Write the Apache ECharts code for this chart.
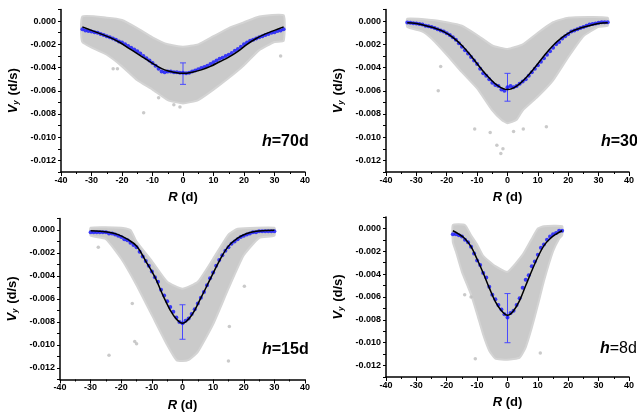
<!DOCTYPE html>
<html><head><meta charset="utf-8">
<script src="https://cdn.jsdelivr.net/npm/echarts@6/dist/echarts.min.js"></script>
<style>html,body{margin:0;padding:0;background:#fff}#c{width:637px;height:413px}</style>
</head><body><div id="c"></div>
<script>
// ---------- data ----------
const panelLabels = ['70d', '30d', '15d', '8d'];

// blue dot averages (R from start, step 1)
const blueStart = [-33, -33, -30, -18];
const blue70 = [-0.00070,-0.00080,-0.00085,-0.00090,-0.00095,-0.00100,-0.00110,-0.00120,-0.00130,-0.00140,-0.00150,-0.00160,-0.00175,-0.00185,-0.00200,-0.00215,-0.00230,-0.00245,-0.00260,-0.00280,-0.00300,-0.00320,-0.00340,-0.00360,-0.00385,-0.00410,-0.00435,-0.00440,-0.00435,-0.00435,-0.00440,-0.00440,-0.00445,-0.00445,-0.00450,-0.00445,-0.00435,-0.00425,-0.00415,-0.00405,-0.00395,-0.00385,-0.00370,-0.00355,-0.00340,-0.00325,-0.00315,-0.00300,-0.00290,-0.00275,-0.00255,-0.00240,-0.00220,-0.00200,-0.00185,-0.00170,-0.00160,-0.00150,-0.00140,-0.00130,-0.00120,-0.00110,-0.00100,-0.00095,-0.00085,-0.00080,-0.00070];
const blue30 = [-0.00012,-0.00015,-0.00018,-0.0002,-0.00025,-0.0003,-0.0004,-0.00045,-0.0005,-0.0006,-0.0007,-0.0008,-0.0009,-0.00105,-0.0012,-0.0014,-0.0016,-0.0019,-0.0022,-0.0025,-0.0028,-0.0031,-0.0034,-0.0037,-0.0041,-0.0045,-0.0047,-0.0050,-0.0053,-0.0055,-0.0056,-0.0059,-0.0060,-0.0057,-0.0056,-0.0057,-0.0056,-0.0054,-0.0052,-0.0050,-0.0047,-0.0044,-0.0041,-0.0038,-0.0035,-0.0032,-0.0029,-0.0026,-0.0023,-0.0020,-0.0018,-0.0015,-0.0013,-0.0011,-0.0009,-0.0008,-0.0007,-0.0006,-0.0005,-0.0004,-0.0003,-0.00025,-0.0002,-0.00015,-0.0001,-0.0001,-0.0001];
const blue15 = [-0.0002,-0.0002,-0.0002,-0.0002,-0.0002,-0.0002,-0.0003,-0.0003,-0.0004,-0.0005,-0.0006,-0.0008,-0.0009,-0.0011,-0.0013,-0.0015,-0.0019,-0.0023,-0.0027,-0.0031,-0.0036,-0.0041,-0.0045,-0.0052,-0.0057,-0.0062,-0.0067,-0.0071,-0.0076,-0.0080,-0.0081,-0.0079,-0.0077,-0.0073,-0.0069,-0.0064,-0.0059,-0.0054,-0.0048,-0.0042,-0.0037,-0.0031,-0.0026,-0.0022,-0.0018,-0.0015,-0.0012,-0.0010,-0.0008,-0.0006,-0.0005,-0.0004,-0.0003,-0.0002,-0.0002,-0.0001,-0.0001,-0.0001,-0.0001,-0.0001,-0.0001];
const blue8 = [-0.0005,-0.0005,-0.0006,-0.0007,-0.0010,-0.0012,-0.0016,-0.0022,-0.0028,-0.0032,-0.0039,-0.0043,-0.0051,-0.0058,-0.0062,-0.0067,-0.0071,-0.0075,-0.0078,-0.0074,-0.0072,-0.0067,-0.0061,-0.0052,-0.0045,-0.0041,-0.0033,-0.0029,-0.0023,-0.0017,-0.0014,-0.0010,-0.0007,-0.0005,-0.0004,-0.0002,-0.0002];

// black fitted curves
const fit70R = [-33,-30,-27,-24,-21,-18,-15,-12,-9,-6,-3,0,3,6,9,12,15,18,21,24,27,30,33];
const fit70V = [-0.0005,-0.0008,-0.0011,-0.0014,-0.0018,-0.0023,-0.0028,-0.0033,-0.0038,-0.0042,-0.0044,-0.0045,-0.0044,-0.0042,-0.0039,-0.0035,-0.0031,-0.0026,-0.0020,-0.0015,-0.0011,-0.0008,-0.0005];
const fit30R = [-33,-30,-27,-24,-21,-18,-15,-12,-9,-6,-3,0,3,6,9,12,15,18,21,24,27,30,33];
const fit30V = [-0.00015,-0.0002,-0.0004,-0.0006,-0.0009,-0.0014,-0.0021,-0.0030,-0.0040,-0.0049,-0.0056,-0.0059,-0.0056,-0.0049,-0.0040,-0.0030,-0.0021,-0.0014,-0.0009,-0.0006,-0.0004,-0.0002,-0.00015];
const fit15R = [-30,-27,-24,-21,-18,-15,-12,-9,-6,-3,0,3,6,9,12,15,18,21,24,27,30];
const fit15V = [-0.00006,-0.0001,-0.0002,-0.0004,-0.0008,-0.0014,-0.0027,-0.0041,-0.0059,-0.0074,-0.0081,-0.0074,-0.0059,-0.0043,-0.0027,-0.0014,-0.0007,-0.0003,-0.0001,-0.00005,-0.00003];
const fit8R = [-18,-16,-14,-12,-10,-8,-6,-4,-2,0,2,4,6,8,10,12,14,16,18];
const fit8V = [-0.0002,-0.0005,-0.0009,-0.0016,-0.0027,-0.0039,-0.0052,-0.0064,-0.0072,-0.0076,-0.0072,-0.0063,-0.0050,-0.0037,-0.0025,-0.0015,-0.0009,-0.0005,-0.0002];

// grey scatter cloud: upper and lower envelopes
const cloudUp70 = [[-33,0.0004],[-25,0.0003],[-20,0.0001],[-15,-0.0006],[-10,-0.0014],[-5,-0.0020],[0,-0.0022],[5,-0.0020],[10,-0.0013],[15,-0.0006],[20,-0.0001],[25,0.0004],[33,0.0005]];
const cloudLo70 = [[-33,-0.0018],[-25,-0.0029],[-20,-0.0039],[-15,-0.0051],[-10,-0.0059],[-5,-0.0068],[0,-0.0071],[5,-0.0068],[10,-0.0059],[15,-0.0049],[20,-0.0038],[25,-0.0025],[30,-0.0018],[33,-0.0017]];
const cloudUp30 = [[-33,0.0002],[-25,0.0001],[-20,-0.0001],[-15,-0.0004],[-10,-0.0012],[-5,-0.0021],[0,-0.0024],[5,-0.0020],[10,-0.0010],[15,-0.0001],[20,0.0003],[33,0.0003]];
const cloudLo30 = [[-33,-0.0005],[-28,-0.0009],[-25,-0.0015],[-20,-0.0029],[-15,-0.0044],[-10,-0.0058],[-5,-0.0077],[-2,-0.0085],[0,-0.0088],[3,-0.0085],[5,-0.0077],[10,-0.0065],[15,-0.0051],[20,-0.0031],[25,-0.0013],[30,-0.0005],[33,-0.0004]];
const cloudUp15 = [[-30,0.0002],[-20,0.0002],[-17,0.0000],[-15,-0.0010],[-10,-0.0027],[-5,-0.0045],[0,-0.0051],[5,-0.0045],[10,-0.0025],[15,-0.0004],[18,0.0001],[30,0.0002]];
const cloudLo15 = [[-30,-0.0005],[-25,-0.0008],[-20,-0.0025],[-15,-0.0048],[-10,-0.0074],[-5,-0.0100],[-2,-0.0113],[0,-0.0114],[2,-0.0113],[5,-0.0106],[10,-0.0082],[15,-0.0051],[20,-0.0022],[25,-0.0007],[30,-0.0005]];
const cloudUp8 = [[-18,0.0003],[-14,0.0003],[-12,-0.0006],[-10,-0.0014],[-8,-0.0024],[-4,-0.0033],[0,-0.0038],[5,-0.0023],[8,-0.0009],[10,0.0000],[12,0.0002],[18,0.0002]];
const cloudLo8 = [[-18,-0.0012],[-17,-0.0020],[-15,-0.0038],[-12,-0.0058],[-10,-0.0075],[-8,-0.0093],[-6,-0.0107],[-4,-0.0114],[0,-0.0115],[4,-0.0113],[6,-0.0104],[8,-0.0087],[10,-0.0067],[12,-0.0046],[15,-0.0020],[17,-0.0009],[18,-0.0006]];

// isolated grey points outside the cloud
const stray70 = [[-12.9,-0.0079],[-22.9,-0.0041],[-21.5,-0.0041],[32,-0.0030],[-1,-0.0074],[-3,-0.0072],[-8,-0.0066]];
const stray30 = [[-22.8,-0.0060],[-22,-0.0039],[-10.8,-0.0093],[-5.7,-0.0096],[-3.5,-0.0107],[-2.2,-0.0114],[-1.5,-0.0110],[5.2,-0.0093],[12.8,-0.0091],[2,-0.0095]];
const stray15 = [[-24,-0.0109],[-27.5,-0.0015],[-16.4,-0.0064],[-15.6,-0.0097],[-15,-0.0099],[15.3,-0.0084],[20.2,-0.0049],[15,-0.0114]];
const stray8 = [[-14.1,-0.0058],[-10.6,-0.0114],[10.8,-0.0109],[-12,-0.0060]];

// error bars at R = 0 : [R, top, bottom]
const err70 = [0,-0.0036,-0.00545];
const err30 = [0,-0.0045,-0.0069];
const err15 = [0,-0.0065,-0.0095];
const err8  = [0,-0.0057,-0.0100];

// ---------- chart ----------
const blues = [blue70, blue30, blue15, blue8];
const fits = [[fit70R, fit70V],[fit30R, fit30V],[fit15R, fit15V],[fit8R, fit8V]];
const clouds = [[cloudUp70, cloudLo70],[cloudUp30, cloudLo30],[cloudUp15, cloudLo15],[cloudUp8, cloudLo8]];
const strays = [stray70, stray30, stray15, stray8];
const errs = [err70, err30, err15, err8];

const grids = [
  {left:61, top:9.5, width:244, height:162.5},
  {left:386, top:9.5, width:245, height:162.5},
  {left:60, top:218.5, width:245, height:161},
  {left:386, top:217, width:245, height:160}
];
const labelPos = [[262,134],[601,134],[262,342],[600,341]];

const GREY = '#cacaca', BLUE = '#1414ff';
const axisFont = {fontFamily:'Arial, Liberation Sans', fontWeight:'bold', fontSize:9, color:'#000'};

const xAxes = [], yAxes = [], series = [], graphic = [];
grids.forEach((g, i) => {
  xAxes.push({
    gridIndex:i, type:'value', min:-40, max:40, interval:10,
    axisLine:{onZero:false, lineStyle:{color:'#000', width:1.5}},
    axisTick:{inside:false, length:4, lineStyle:{color:'#000'}},
    minorTick:{show:true, splitNumber:2, length:2, lineStyle:{color:'#000'}},
    splitLine:{show:false},
    axisLabel:{...axisFont, margin:4},
    name:'{r|R} (d)', nameLocation:'middle', nameGap:19,
    nameTextStyle:{fontFamily:'Arial, Liberation Sans', fontWeight:'bold', fontSize:13, color:'#000',
      rich:{r:{fontStyle:'italic', fontWeight:'bold', fontSize:13, fontFamily:'Arial, Liberation Sans', color:'#000'}}}
  });
  yAxes.push({
    gridIndex:i, type:'value', min:-0.013, max:0.001, interval:0.001,
    axisLine:{onZero:false, lineStyle:{color:'#000', width:1.5}},
    axisTick:{inside:false, length:3, lineStyle:{color:'#000'}},
    splitLine:{show:false},
    axisLabel:{...axisFont, margin:5, formatter: v => {
      const k = Math.round(v * 1000);
      if (k % 2 !== 0 || k > 0) return '';
      return (k / 1000).toFixed(3);
    }},
    name:'{v|V}{s|y} (d/s)', nameLocation:'middle', nameRotate:90, nameGap:41,
    nameTextStyle:{fontFamily:'Arial, Liberation Sans', fontWeight:'bold', fontSize:13, color:'#000',
      rich:{
        v:{fontStyle:'italic', fontWeight:'bold', fontSize:13, fontFamily:'Arial, Liberation Sans', color:'#000'},
        s:{fontStyle:'italic', fontWeight:'bold', fontSize:8, fontFamily:'Arial, Liberation Sans', color:'#000', padding:[6,1,0,0]}
      }}
  });

  const [up, lo] = clouds[i];
  series.push({
    type:'custom', xAxisIndex:i, yAxisIndex:i, silent:true,
    data:[[0, 0]],
    renderItem:(params, api) => {
      const pts = up.map(p => api.coord(p)).concat(lo.slice().reverse().map(p => api.coord(p)));
      return {type:'polygon', shape:{points:pts, smooth:0.15},
        style:{fill:GREY, stroke:'#d4d4d4', lineWidth:2}};
    }
  });
  series.push({
    type:'scatter', xAxisIndex:i, yAxisIndex:i, symbol:'circle', symbolSize:3.5,
    itemStyle:{color:'#bdbdbd'}, data:strays[i], silent:true
  });
  const bd = blues[i].map((v, k) => [blueStart[i] + k, v]);
  series.push({
    type:'scatter', xAxisIndex:i, yAxisIndex:i, symbol:'circle', symbolSize:4,
    itemStyle:{color:BLUE}, data:bd, silent:true
  });
  const [fr, fv] = fits[i];
  series.push({
    type:'line', xAxisIndex:i, yAxisIndex:i, smooth:0.4, showSymbol:false,
    lineStyle:{color:'#000', width:1.5}, data:fr.map((r, k) => [r, fv[k]]), silent:true
  });
  series.push({
    type:'custom', xAxisIndex:i, yAxisIndex:i, silent:true,
    data:[errs[i]], encode:{x:0, y:[1,2]},
    renderItem:(params, api) => {
      const a = api.coord([api.value(0), api.value(1)]);
      const b = api.coord([api.value(0), api.value(2)]);
      const w = 3;
      const st = {stroke:'#4848ff', lineWidth:1};
      return {type:'group', children:[
        {type:'line', shape:{x1:a[0], y1:a[1], x2:b[0], y2:b[1]}, style:st},
        {type:'line', shape:{x1:a[0]-w, y1:a[1], x2:a[0]+w, y2:a[1]}, style:st},
        {type:'line', shape:{x1:b[0]-w, y1:b[1], x2:b[0]+w, y2:b[1]}, style:st}
      ]};
    }
  });

  graphic.push({
    type:'text', left:labelPos[i][0], top:labelPos[i][1],
    style:{
      text:'{h|h}{n|=' + panelLabels[i] + '}',
      rich:{
        h:{fontStyle:'italic', fontWeight:'bold', fontSize:16, fontFamily:'Arial, Liberation Sans', fill:'#000'},
        n:{fontWeight: i === 3 ? 'normal' : 'bold', fontSize:16, fontFamily:'Arial, Liberation Sans', fill:'#000'}
      }
    }
  });
});

const chart = echarts.init(document.getElementById('c'), null, {renderer:'canvas'});
chart.setOption({
  animation:false,
  backgroundColor:'#fff',
  grid:grids.map(g => ({...g, containLabel:false})),
  xAxis:xAxes, yAxis:yAxes, series, graphic
});
</script></body></html>
